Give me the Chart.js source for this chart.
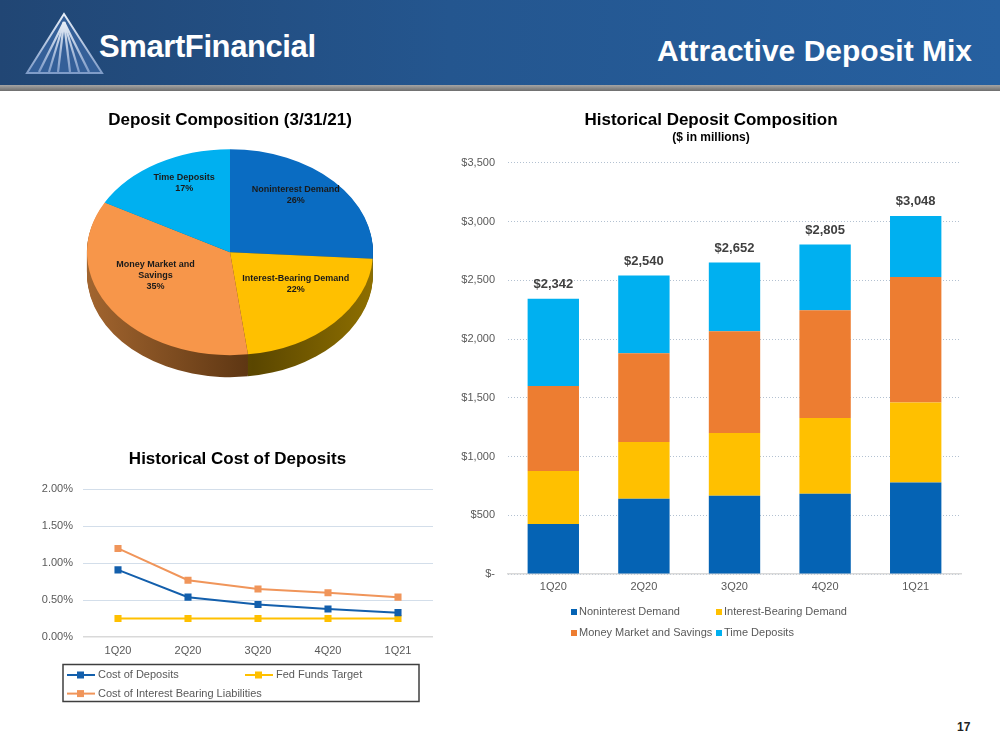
<!DOCTYPE html>
<html>
<head>
<meta charset="utf-8">
<title>Attractive Deposit Mix</title>
<script src="https://cdn.jsdelivr.net/npm/chart.js@4.4.0/dist/chart.umd.min.js"></script>
<style>
	html, body { margin: 0; padding: 0; background: #fff; }
	#page { position: relative; width: 1000px; height: 750px; overflow: hidden; font-family: "Liberation Sans", Arial, sans-serif; }
	#header { position: absolute; left: 0; top: 0; width: 1000px; height: 85px; background: linear-gradient(90deg, #214674 0%, #24568f 45%, #2660a0 100%); }
	#header_rule { position: absolute; left: 0; top: 85px; width: 1000px; height: 6px; background: linear-gradient(180deg, #a5a5a5, #6e6e6e); }
	#brand { position: absolute; left: 99px; top: 29px; color: #fff; font-weight: bold; font-size: 31px; letter-spacing: -0.4px; }
	#slide_title { position: absolute; right: 28px; top: 34px; color: #fff; font-weight: bold; font-size: 30px; }
	#page_no { position: absolute; left: 957px; top: 720px; font-weight: bold; font-size: 12px; color: #222; }
	.chart_box { position: absolute; }
</style>
</head>
<body>
<div id="page">
	<div id="header"></div>
	<div id="header_rule"></div>
	<svg style="position:absolute;left:25px;top:12px" width="80" height="64">
		<defs>
			<linearGradient id="tri_grad" x1="0" y1="0" x2="0" y2="1">
				<stop offset="0" stop-color="#e8eef7"/>
				<stop offset="1" stop-color="#7f9cc8"/>
			</linearGradient>
		</defs>
		<polygon points="39,2 2,61 77,61" fill="#345f98" stroke="url(#tri_grad)" stroke-width="2"/>
		<g stroke="url(#tri_grad)" stroke-width="2.2">
			<line x1="39" y1="10" x2="14" y2="60"/>
			<line x1="39" y1="10" x2="24" y2="60"/>
			<line x1="39" y1="10" x2="33" y2="60"/>
			<line x1="39" y1="10" x2="39" y2="60"/>
			<line x1="39" y1="10" x2="45" y2="60"/>
			<line x1="39" y1="10" x2="54" y2="60"/>
			<line x1="39" y1="10" x2="64" y2="60"/>
		</g>
	</svg>
	<div id="brand">SmartFinancial</div>
	<div id="slide_title">Attractive Deposit Mix</div>
	<div class="chart_box" style="left:80px;top:100px"><canvas id="pie_chart" width="310" height="300"></canvas></div>
	<div class="chart_box" style="left:38px;top:440px"><canvas id="cost_chart" width="404" height="270"></canvas></div>
	<div class="chart_box" style="left:455px;top:100px"><canvas id="deposit_chart" width="511" height="560"></canvas></div>
	<div id="page_no">17</div>
</div>
<script>
// quarters shown on both historical charts
const quarters = ['1Q20', '2Q20', '3Q20', '4Q20', '1Q21'];

// deposit balances, $ in millions
const noninterestDemand = [426, 641, 667, 684, 778];
const interestBearingDemand = [451, 483, 534, 644, 681];
const moneyMarketSavings = [724, 755, 866, 918, 1068];
const timeDeposits = [741, 661, 585, 559, 521];
const totalDeposits = [2342, 2540, 2652, 2805, 3048];

// mix at 3/31/21, percent
const mixLabels = ['Noninterest Demand', 'Interest-Bearing Demand', ['Money Market and', 'Savings'], 'Time Deposits'];
const mixShares = [26, 22, 35, 17];

// cost of deposits, percent
const costOfDeposits = [0.91, 0.54, 0.44, 0.38, 0.33];
const fedFundsTarget = [0.25, 0.25, 0.25, 0.25, 0.25];
const costOfIBLiabilities = [1.20, 0.77, 0.65, 0.60, 0.54];

const FONT = '"Liberation Sans", Arial, sans-serif';
Chart.defaults.font.family = FONT;
Chart.defaults.color = '#595959';
Chart.defaults.animation = false;
Chart.defaults.plugins.tooltip.enabled = false;

// legend drawn as a fixed two column grid like the powerpoint one
const gridLegend = {
	id: 'gridLegend',
	afterDraw(chart, args, o) {
		if (!o.cols) return;
		let ctx = chart.ctx;
		let area = chart.chartArea;
		ctx.save();
		if (o.frame) {
			ctx.strokeStyle = o.frame.color;
			ctx.lineWidth = o.frame.width;
			ctx.strokeRect(area.left + o.frame.x, area.bottom + o.frame.y, o.frame.w, o.frame.h);
		}
		ctx.font = '11px ' + FONT;
		ctx.textBaseline = 'middle';
		ctx.fillStyle = '#595959';
		chart.data.datasets.forEach((ds, i) => {
			let x = area.left + o.cols[i % o.cols.length];
			let y = area.bottom + o.top + Math.floor(i / o.cols.length) * o.rowHeight;
			if (o.marker == 'line') {
				ctx.strokeStyle = ds.borderColor;
				ctx.lineWidth = 2;
				ctx.beginPath();
				ctx.moveTo(x, y);
				ctx.lineTo(x + 28, y);
				ctx.stroke();
				ctx.fillStyle = ds.borderColor;
				ctx.fillRect(x + 10, y - 3.5, 7, 7);
				ctx.fillStyle = '#595959';
				ctx.fillText(ds.label, x + 31, y);
			}
			else {
				ctx.fillStyle = ds.backgroundColor;
				ctx.fillRect(x, y - 3, 6, 6);
				ctx.fillStyle = '#595959';
				ctx.fillText(ds.label, x + 8, y);
			}
		});
		ctx.restore();
	}
};

// squash the pie into an ellipse and give it a side wall
const pie3d = {
	id: 'pie3d',
	beforeDatasetsDraw(chart, args, o) {
		let arcs = chart.getDatasetMeta(0).data;
		let cx = arcs[0].x, cy = arcs[0].y, r = arcs[0].outerRadius;
		let ctx = chart.ctx;
		ctx.save();
		ctx.translate(cx, cy);
		ctx.scale(1, o.squash);
		ctx.translate(-cx, -cy);
		let sides = chart.data.datasets[0].sideColors;
		for (let d = o.depth; d >= 1; d--) {
			let dy = d / o.squash;
			arcs.forEach((a, i) => {
				let g = ctx.createLinearGradient(cx - r, 0, cx + r, 0);
				g.addColorStop(0, sides[i][0]);
				g.addColorStop(0.58, sides[i][1]);
				g.addColorStop(1, sides[i][0]);
				ctx.beginPath();
				ctx.moveTo(cx, cy + dy);
				ctx.arc(cx, cy + dy, r, a.startAngle, a.endAngle);
				ctx.closePath();
				ctx.fillStyle = g;
				ctx.fill();
			});
		}
	},
	afterDatasetsDraw(chart, args, o) {
		chart.ctx.restore();
		let arcs = chart.getDatasetMeta(0).data;
		let ctx = chart.ctx;
		ctx.save();
		ctx.font = 'bold 9px ' + FONT;
		ctx.fillStyle = '#1a1a1a';
		ctx.textAlign = 'center';
		ctx.textBaseline = 'middle';
		arcs.forEach((a, i) => {
			let mid = (a.startAngle + a.endAngle) / 2;
			let x = a.x + Math.cos(mid) * a.outerRadius * 0.63;
			let y = a.y + Math.sin(mid) * a.outerRadius * 0.63 * o.squash - 13;
			let lines = [].concat(chart.data.labels[i], chart.data.datasets[0].data[i] + '%');
			let h = 11;
			lines.forEach((t, k) => ctx.fillText(t, x, y + (k - (lines.length - 1) / 2) * h));
		});
		ctx.restore();
	}
};

// totals above stacked bars
const totalLabels = {
	id: 'totalLabels',
	afterDatasetsDraw(chart) {
		let meta = chart.getDatasetMeta(chart.data.datasets.length - 1);
		let ctx = chart.ctx;
		ctx.save();
		ctx.font = 'bold 13px ' + FONT;
		ctx.fillStyle = '#404040';
		ctx.textAlign = 'center';
		ctx.textBaseline = 'middle';
		meta.data.forEach((bar, i) => {
			ctx.fillText('$' + totalDeposits[i].toLocaleString('en-US'), bar.x, bar.y - 14);
		});
		ctx.restore();
	}
};

function title_opts(text, top, bottom) {
	return {
		display: true,
		text: text,
		color: '#000',
		font: { size: 17, weight: 'bold' },
		padding: { top: top, bottom: bottom }
	};
}

new Chart(document.getElementById('pie_chart'), {
	type: 'pie',
	data: {
		labels: mixLabels,
		datasets: [{
			data: mixShares,
			backgroundColor: ['#0a6cc2', '#ffc000', '#f7964a', '#00b0f0'],
			sideColors: [['#0a4f8f', '#06335e'], ['#8e6f00', '#5a4600'], ['#a2652f', '#5c3512'], ['#0083b3', '#005478']],
			borderWidth: 0,
			radius: 143,
			clip: false
		}]
	},
	options: {
		responsive: false,
		layout: { padding: { right: 10, bottom: 26 } },
		plugins: {
			legend: { display: false },
			title: title_opts('Deposit Composition (3/31/21)', 10, 0),
			pie3d: { squash: 0.72, depth: 22 }
		}
	},
	plugins: [pie3d]
});

new Chart(document.getElementById('cost_chart'), {
	type: 'line',
	data: {
		labels: quarters,
		datasets: [
			{ label: 'Cost of Deposits', data: costOfDeposits, borderColor: '#135fac', backgroundColor: '#135fac' },
			{ label: 'Fed Funds Target', data: fedFundsTarget, borderColor: '#ffc000', backgroundColor: '#ffc000' },
			{ label: 'Cost of Interest Bearing Liabilities', data: costOfIBLiabilities, borderColor: '#f0955a', backgroundColor: '#f0955a' }
		]
	},
	options: {
		responsive: false,
		layout: { padding: { left: 4, right: 9, bottom: 52 } },
		elements: {
			line: { borderWidth: 2, tension: 0 },
			point: { pointStyle: 'rect', radius: 5, borderWidth: 0 }
		},
		scales: {
			x: {
				offset: true,
				grid: { display: false, drawTicks: false },
				border: { display: false },
				ticks: { padding: 7, font: { size: 11 } },
				afterFit: s => { s.height = 21; }
			},
			y: {
				min: 0,
				max: 2,
				ticks: { stepSize: 0.5, padding: 10, font: { size: 11 }, callback: v => v.toFixed(2) + '%' },
				grid: { drawTicks: false, color: c => c.tick.value == 0 ? '#d9d9d9' : '#d3deea', lineWidth: c => c.tick.value == 0 ? 1.5 : 1 },
				border: { display: false },
				afterFit: s => { s.width = 41; }
			}
		},
		plugins: {
			legend: { display: false },
			title: title_opts('Historical Cost of Deposits', 9, 20),
			gridLegend: {
				cols: [-16, 162],
				top: 38,
				rowHeight: 18.6,
				marker: 'line',
				frame: { x: -20, y: 27.5, w: 356, h: 37, color: '#3f3f3f', width: 1.5 }
			}
		}
	},
	plugins: [gridLegend]
});

new Chart(document.getElementById('deposit_chart'), {
	type: 'bar',
	data: {
		labels: quarters,
		datasets: [
			{ label: 'Noninterest Demand', data: noninterestDemand, backgroundColor: '#0563b4' },
			{ label: 'Interest-Bearing Demand', data: interestBearingDemand, backgroundColor: '#ffc000' },
			{ label: 'Money Market and Savings', data: moneyMarketSavings, backgroundColor: '#ed7d31' },
			{ label: 'Time Deposits', data: timeDeposits, backgroundColor: '#00b0f0' }
		]
	},
	options: {
		responsive: false,
		layout: { padding: { left: 6, right: 5, bottom: 65 } },
		datasets: { bar: { categoryPercentage: 1, barPercentage: 0.567 } },
		scales: {
			x: {
				stacked: true,
				grid: { display: false, drawTicks: false },
				border: { color: '#d9d9d9', width: 1.5 },
				ticks: { padding: 6.5, font: { size: 11 } },
				afterFit: s => { s.height = 21; }
			},
			y: {
				stacked: true,
				min: 0,
				max: 3500,
				ticks: { stepSize: 500, padding: 13, font: { size: 11 }, callback: v => v == 0 ? '$-' : '$' + v.toLocaleString('en-US') },
				grid: { drawTicks: false, color: '#b3c1d1' },
				border: { display: false, dash: [1, 2] },
				afterFit: s => { s.width = 47; }
			}
		},
		plugins: {
			legend: { display: false },
			title: title_opts('Historical Deposit Composition', 10, 0),
			subtitle: {
				display: true,
				text: '($ in millions)',
				color: '#000',
				font: { size: 12, weight: 'bold' },
				padding: { top: 0, bottom: 18 }
			},
			gridLegend: { cols: [63, 208], top: 38, rowHeight: 21 }
		}
	},
	plugins: [gridLegend, totalLabels]
});
</script>
</body>
</html>
